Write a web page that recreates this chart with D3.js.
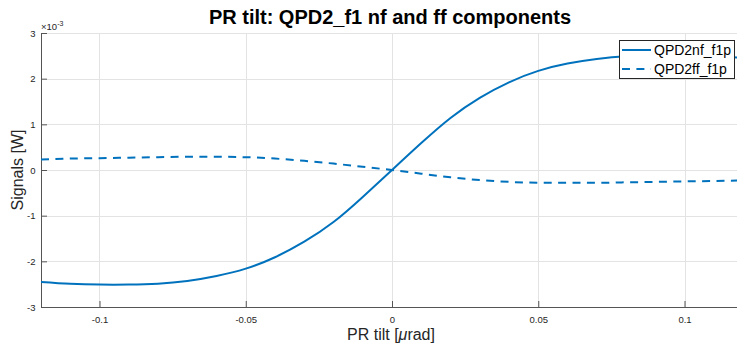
<!DOCTYPE html>
<html>
<head>
<meta charset="utf-8">
<script src="https://cdn.jsdelivr.net/npm/d3@7"></script>
<style>
  html, body { margin: 0; padding: 0; background: #fff; overflow: hidden; }
  svg { display: block; font-family: "Liberation Sans", Arial, sans-serif; }
</style>
</head>
<body>
<svg id="chart" width="737" height="345"></svg>
<script>
// ---- data ----
const tilt = [-0.12,-0.11,-0.10,-0.09,-0.08,-0.07,-0.06,-0.05,-0.04,-0.03,-0.02,-0.01,0,
              0.01,0.02,0.03,0.04,0.05,0.06,0.07,0.08,0.09,0.10,0.11,0.12];
const nfValues = [-2.45,-2.49,-2.51,-2.51,-2.49,-2.43,-2.32,-2.16,-1.91,-1.57,-1.14,-0.59,0,
                  0.59,1.14,1.58,1.92,2.17,2.33,2.43,2.49,2.51,2.51,2.49,2.46];
const ffValues = [0.23,0.25,0.26,0.27,0.28,0.29,0.29,0.28,0.25,0.20,0.14,0.07,0,
                  -0.08,-0.16,-0.22,-0.26,-0.28,-0.28,-0.28,-0.27,-0.26,-0.25,-0.24,-0.23];
const xTicks = [-0.1,-0.05,0,0.05,0.1];
const xTickLabels = ["-0.1","-0.05","0","0.05","0.1"];
const yTicks = [-3,-2,-1,0,1,2,3];
const yTickLabels = ["-3","-2","-1","0","1","2","3"];
const seriesNames = ["QPD2nf_f1p","QPD2ff_f1p"];
const titleText = "PR tilt: QPD2_f1 nf and ff components";

// ---- layout ----
const svg = d3.select("#chart");
const L = 41, R = 743, T = 33, B = 307;
const x = d3.scaleLinear().domain([-0.12, 0.12]).range([L, R]);
const y = d3.scaleLinear().domain([-3, 3]).range([B, T]);
const color = "#0072BD";
const axisColor = "#262626";
const dash = "8,6.4";

// grid
svg.append("g").selectAll("line").data(xTicks).join("line")
  .attr("x1", d => Math.round(x(d)) + 0.5).attr("x2", d => Math.round(x(d)) + 0.5).attr("y1", T).attr("y2", B)
  .attr("stroke", "#e3e3e3").attr("stroke-width", 1);
svg.append("g").selectAll("line").data(yTicks).join("line")
  .attr("x1", L).attr("x2", R).attr("y1", d => Math.round(y(d)) + 0.5).attr("y2", d => Math.round(y(d)) + 0.5)
  .attr("stroke", "#e3e3e3").attr("stroke-width", 1);

// axes
const xAxis = d3.axisBottom(x).tickValues(xTicks).tickFormat((d, i) => xTickLabels[i])
  .tickSizeInner(-6).tickSizeOuter(0).tickPadding(9);
const gx = svg.append("g").attr("transform", `translate(0,${B})`).call(xAxis);
const yAxis = d3.axisLeft(y).tickValues(yTicks).tickFormat((d, i) => yTickLabels[i])
  .tickSizeInner(-6).tickSizeOuter(0).tickPadding(5.5);
const gy = svg.append("g").attr("transform", `translate(${L},0)`).call(yAxis);
[gx, gy].forEach(g => {
  g.select(".domain").attr("stroke", "#555").attr("stroke-width", 1);
  g.selectAll(".tick line").attr("stroke", "#555");
  g.selectAll(".tick text").attr("fill", axisColor).attr("font-size", 9.5)
   .attr("font-family", "Liberation Sans, Arial, sans-serif");
});

// exponent label
const ex = svg.append("text").attr("x", L).attr("y", 30).attr("fill", axisColor)
  .attr("font-size", 9.5);
ex.append("tspan").text("\u00d710");
ex.append("tspan").attr("dy", -4).attr("font-size", 7).text("-3");

// lines
const line = d3.line().x((d, i) => x(tilt[i])).y(d => y(d)).curve(d3.curveNatural);
svg.append("clipPath").attr("id", "clip").append("rect")
  .attr("x", L).attr("y", T).attr("width", R - L).attr("height", B - T);
svg.append("path").datum(nfValues).attr("d", line).attr("fill", "none")
  .attr("stroke", color).attr("stroke-width", 2).attr("clip-path", "url(#clip)");
svg.append("path").datum(ffValues).attr("d", line).attr("fill", "none")
  .attr("stroke", color).attr("stroke-width", 2).attr("stroke-dasharray", dash)
  .attr("clip-path", "url(#clip)");

// title
svg.append("text").attr("x", (L + R) / 2 - 2).attr("y", 24).attr("text-anchor", "middle")
  .attr("font-size", 20).attr("font-weight", "bold").attr("fill", "#000").text(titleText);

// axis labels
svg.append("text").attr("transform", `translate(23,${(T + B) / 2}) rotate(-90)`)
  .attr("text-anchor", "middle").attr("font-size", 16).attr("fill", axisColor).text("Signals [W]");
const xl = svg.append("text").attr("x", (L + R) / 2 - 1).attr("y", 340).attr("text-anchor", "middle")
  .attr("font-size", 16).attr("fill", axisColor);
xl.append("tspan").text("PR tilt [");
xl.append("tspan").attr("font-style", "italic").text("\u03bc");
xl.append("tspan").text("rad]");

// legend
const lg = svg.append("g");
lg.append("rect").attr("x", 619.5).attr("y", 40.5).attr("width", 115).attr("height", 38)
  .attr("fill", "#fff").attr("stroke", "#262626").attr("stroke-width", 1);
seriesNames.forEach((name, i) => {
  const yy = 50 + i * 19;
  lg.append("line").attr("x1", 622).attr("x2", 651).attr("y1", yy).attr("y2", yy)
    .attr("stroke", color).attr("stroke-width", 2)
    .attr("stroke-dasharray", i === 1 ? dash : null);
  lg.append("text").attr("x", 654).attr("y", yy + 5).attr("font-size", 14)
    .attr("fill", "#000").text(name);
});
</script>
</body>
</html>
